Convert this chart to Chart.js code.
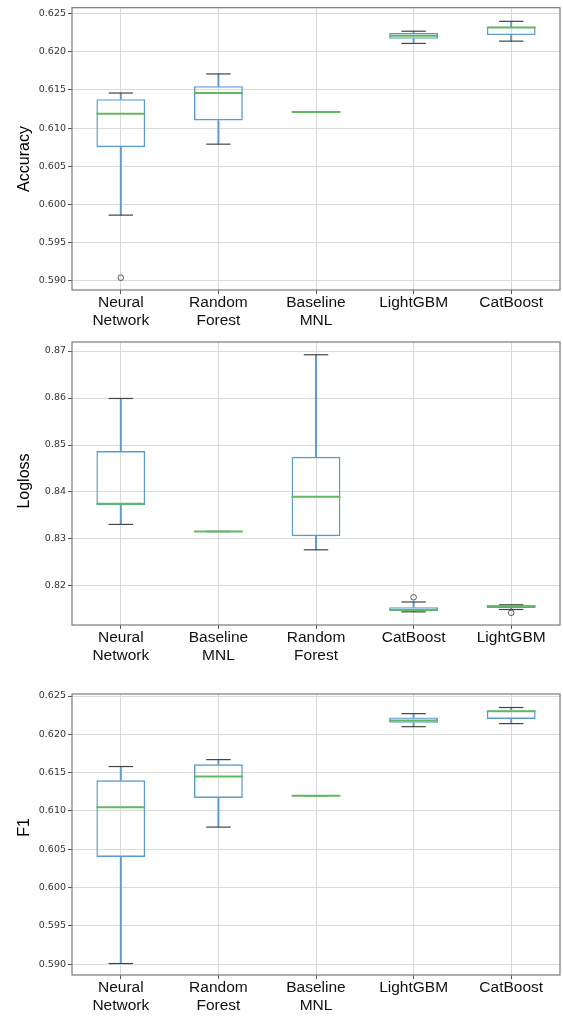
<!DOCTYPE html>
<html><head><meta charset="utf-8">
<script src="https://cdn.jsdelivr.net/npm/chart.js@4.4.1/dist/chart.umd.min.js"></script>
<style>
html,body{margin:0;padding:0;background:#fff;}
.panel{position:absolute;left:0;width:563px;}
canvas{display:block;}
</style></head><body>
<div class="panel" style="top:0;height:330px"><canvas id="c1" width="563" height="330"></canvas></div>
<div class="panel" style="top:330px;height:340px"><canvas id="c2" width="563" height="340"></canvas></div>
<div class="panel" style="top:670px;height:347px"><canvas id="c3" width="563" height="347"></canvas></div>
<script>
// ---------- Data ----------
const accCategories = [['Neural','Network'],['Random','Forest'],['Baseline','MNL'],'LightGBM','CatBoost'];
const accLow  = [0.5986, 0.6079, 0.6121, 0.6211, 0.6214];
const accQ1   = [0.6075, 0.6110, 0.6121, 0.6217, 0.6222];
const accMed  = [0.6119, 0.6146, 0.6121, 0.6221, 0.6232];
const accQ3   = [0.6138, 0.6155, 0.6121, 0.6225, 0.6233];
const accHigh = [0.6146, 0.6171, 0.6121, 0.6227, 0.6240];
const accOut  = [0.5904, null, null, null, null];
const accTicks = [0.590, 0.595, 0.600, 0.605, 0.610, 0.615, 0.620, 0.625];

const llCategories = [['Neural','Network'],['Baseline','MNL'],['Random','Forest'],'CatBoost','LightGBM'];
const llLow  = [0.8331, 0.8316, 0.8277, 0.8145, 0.8150];
const llQ1   = [0.8372, 0.8316, 0.8306, 0.8147, 0.8153];
const llMed  = [0.8375, 0.8316, 0.8390, 0.8149, 0.8157];
const llQ3   = [0.8487, 0.8316, 0.8475, 0.8155, 0.8159];
const llHigh = [0.8599, 0.8316, 0.8692, 0.8166, 0.8160];
const llOut  = [null, null, null, 0.8176, 0.8143];
const llTicks = [0.82, 0.83, 0.84, 0.85, 0.86, 0.87];

const f1Categories = [['Neural','Network'],['Random','Forest'],['Baseline','MNL'],'LightGBM','CatBoost'];
const f1Low  = [0.5901, 0.6079, 0.6120, 0.6210, 0.6214];
const f1Q1   = [0.6040, 0.6117, 0.6120, 0.6215, 0.6220];
const f1Med  = [0.6105, 0.6145, 0.6120, 0.6218, 0.6230];
const f1Q3   = [0.6140, 0.6161, 0.6120, 0.6222, 0.6231];
const f1High = [0.6158, 0.6167, 0.6120, 0.6227, 0.6235];
const f1Out  = [null, null, null, null, null];
const f1Ticks = [0.590, 0.595, 0.600, 0.605, 0.610, 0.615, 0.620, 0.625];

// ---------- Styles ----------
const BOX = '#5b9bd0';
const MED = '#62b862';
const CAP = '#444444';
const GRID = '#dadada';
const FRAME = '#7a7a7a';

const framePlugin = {
  id: 'frameAndTitle',
  afterDraw(chart, args, opts) {
    const {ctx, chartArea: a} = chart;
    ctx.save();
    ctx.strokeStyle = FRAME;
    ctx.lineWidth = 1.2;
    ctx.strokeRect(a.left, a.top, a.right - a.left, a.bottom - a.top);
    ctx.fillStyle = '#000';
    ctx.font = '16px "Liberation Sans", Arial, sans-serif';
    ctx.textAlign = 'center';
    ctx.textBaseline = 'middle';
    ctx.translate(opts.x, opts.y);
    ctx.rotate(-Math.PI / 2);
    ctx.fillText(opts.text, 0, 0);
    ctx.restore();
  }
};

function makeChart(id, cats, low, q1, med, q3, high, out, ticks, decimals, yMin, yMax, padTop, xHeight, title, titleY) {
  const boxData = q1.map((v, i) => [v, q3[i]]);
  const lowWhisk = low.map((v, i) => [v, q1[i]]);
  const highWhisk = q3.map((v, i) => [v, high[i]]);
  const barCommon = {type: 'bar', grouped: false, categoryPercentage: 1, borderSkipped: false};
  const ptCommon = {type: 'line', showLine: false, pointHoverRadius: 0, clip: false};
  new Chart(document.getElementById(id), {
    data: {
      labels: cats,
      datasets: [
        Object.assign({}, ptCommon, {label: 'median', data: med, pointStyle: 'line', pointRadius: 24.4, pointBorderColor: MED, pointBorderWidth: 2}),
        Object.assign({}, ptCommon, {label: 'capLow', data: low, pointStyle: 'line', pointRadius: 12.2, pointBorderColor: CAP, pointBorderWidth: 1.2}),
        Object.assign({}, ptCommon, {label: 'capHigh', data: high, pointStyle: 'line', pointRadius: 12.2, pointBorderColor: CAP, pointBorderWidth: 1.2}),
        Object.assign({}, ptCommon, {label: 'outliers', data: out, pointStyle: 'circle', pointRadius: 2.8, pointBorderColor: '#555', pointBackgroundColor: 'rgba(0,0,0,0)', pointBorderWidth: 1}),
        Object.assign({}, barCommon, {label: 'box', data: boxData, barPercentage: 0.5, backgroundColor: 'rgba(0,0,0,0)', borderColor: BOX, borderWidth: 1.4}),
        Object.assign({}, barCommon, {label: 'whiskerLow', data: lowWhisk, barThickness: 1.3, backgroundColor: BOX, borderWidth: 0}),
        Object.assign({}, barCommon, {label: 'whiskerHigh', data: highWhisk, barThickness: 1.3, backgroundColor: BOX, borderWidth: 0})
      ]
    },
    options: {
      responsive: false,
      animation: false,
      events: [],
      layout: {autoPadding: false, padding: {top: padTop, right: 3, left: 0, bottom: 0}},
      plugins: {legend: {display: false}, tooltip: {enabled: false},
        frameAndTitle: {text: title, x: 25, y: titleY}},
      scales: {
        x: {
          type: 'category', offset: true,
          grid: {offset: false, color: GRID, lineWidth: 1, drawTicks: true, tickLength: 4, tickColor: '#555'},
          border: {display: false},
          ticks: {color: '#111', padding: 0, maxRotation: 0, autoSkip: false,
            font: {family: '"Liberation Sans", Arial, sans-serif', size: 15.5, lineHeight: 1.15}},
          afterFit(s) { s.height = xHeight; }
        },
        y: {
          type: 'linear', min: yMin, max: yMax,
          grid: {color: GRID, lineWidth: 1, drawTicks: true, tickLength: 4, tickColor: '#555'},
          border: {display: false},
          ticks: {color: '#333', padding: 2, font: {family: '"DejaVu Sans", sans-serif', size: 9.5},
            callback: v => Number(v).toFixed(decimals)},
          afterBuildTicks(s) { s.ticks = ticks.map(v => ({value: v})); },
          afterFit(s) { s.width = 72; }
        }
      }
    },
    plugins: [framePlugin]
  });
}

makeChart('c1', accCategories, accLow, accQ1, accMed, accQ3, accHigh, accOut, accTicks, 3,
  0.588789, 0.625782, 6, 40, 'Accuracy', 159);
makeChart('c2', llCategories, llLow, llQ1, llMed, llQ3, llHigh, llOut, llTicks, 2,
  0.811702, 0.871915, 12, 45, 'Logloss', 151);
makeChart('c3', f1Categories, f1Low, f1Q1, f1Med, f1Q3, f1High, f1Out, f1Ticks, 3,
  0.588604, 0.625261, 24, 42, 'F1', 157.5);
</script>
</body></html>
